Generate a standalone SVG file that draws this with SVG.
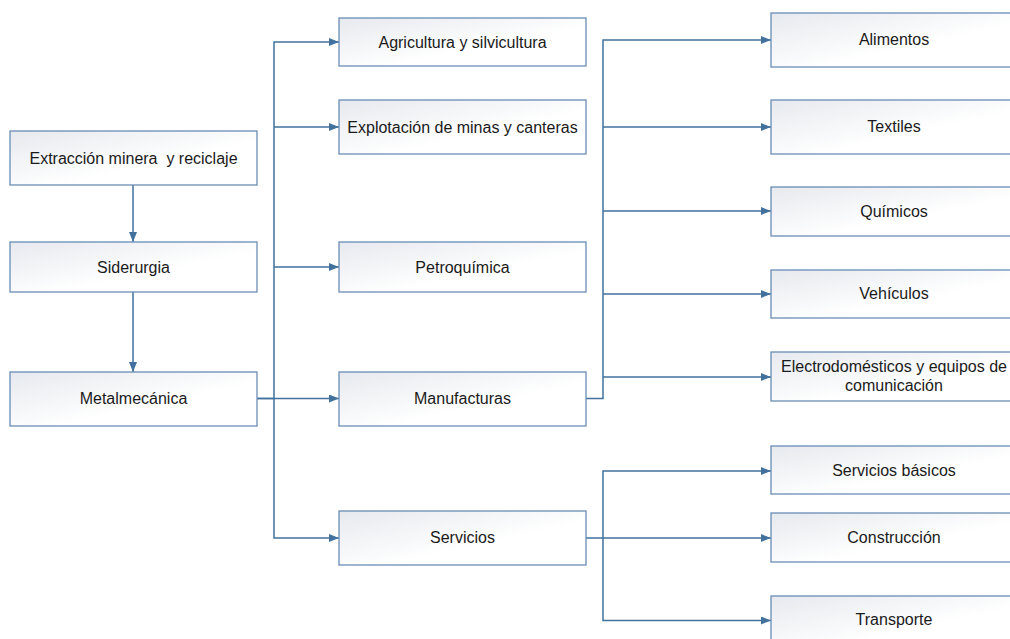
<svg xmlns="http://www.w3.org/2000/svg" width="1010" height="639" viewBox="0 0 1010 639">
<defs>
<linearGradient id="g" x1="0" y1="0" x2="1" y2="1">
<stop offset="0" stop-color="#E6E9EE"/>
<stop offset="0.6" stop-color="#FFFFFF"/>
<stop offset="1" stop-color="#FFFFFF"/>
</linearGradient>
<marker id="a" viewBox="0 0 10 8" refX="10" refY="4" markerWidth="10" markerHeight="8" markerUnits="userSpaceOnUse" orient="auto">
<path d="M0,0 L10,4 L0,8 z" fill="#41719C"/>
</marker>
</defs>
<style>
rect{fill:url(#g);stroke:#6A8DB5;stroke-width:1.3}
text{font-family:"Liberation Sans",Arial,sans-serif;font-size:16px;fill:#1A1A1A;text-anchor:middle;white-space:pre}
.c path{fill:none;stroke:#41719C;stroke-width:1.5}
</style>
<rect x="0" y="0" width="1010" height="639" style="fill:#FFFFFF;stroke:none"/>
<g class="c" id="connectors">
<path d="M133,185 V242" marker-end="url(#a)"/>
<path d="M133,292 V372" marker-end="url(#a)"/>
<path d="M257,398.5 H339" marker-end="url(#a)"/>
<path d="M257,398.5 H274 V42 H339" marker-end="url(#a)"/>
<path d="M274,127 H339" marker-end="url(#a)"/>
<path d="M274,267 H339" marker-end="url(#a)"/>
<path d="M274,398.5 V538 H339" marker-end="url(#a)"/>
<path d="M586,398.5 H603 V40 H771" marker-end="url(#a)"/>
<path d="M603,127 H771" marker-end="url(#a)"/>
<path d="M603,211 H771" marker-end="url(#a)"/>
<path d="M603,294 H771" marker-end="url(#a)"/>
<path d="M603,377 H771" marker-end="url(#a)"/>
<path d="M586,538 H771" marker-end="url(#a)"/>
<path d="M603,538 V471 H771" marker-end="url(#a)"/>
<path d="M603,538 V620.5 H771" marker-end="url(#a)"/>
</g>
<g id="n1"><rect x="10" y="131" width="247" height="54"/><text x="133.5" y="164">Extracción minera  y reciclaje</text></g>
<g id="n2"><rect x="10" y="242" width="247" height="50"/><text x="133.5" y="273">Siderurgia</text></g>
<g id="n3"><rect x="10" y="372" width="247" height="54"/><text x="133.5" y="404">Metalmecánica</text></g>
<g id="n4"><rect x="339" y="18" width="247" height="48"/><text x="462.5" y="48">Agricultura y silvicultura</text></g>
<g id="n5"><rect x="339" y="100" width="247" height="54"/><text x="462.5" y="133">Explotación de minas y canteras</text></g>
<g id="n6"><rect x="339" y="242" width="247" height="50"/><text x="462.5" y="273">Petroquímica</text></g>
<g id="n7"><rect x="339" y="372" width="247" height="54"/><text x="462.5" y="404">Manufacturas</text></g>
<g id="n8"><rect x="339" y="511" width="247" height="54"/><text x="462.5" y="543">Servicios</text></g>
<g id="n9"><rect x="771" y="13" width="247" height="54"/><text x="894" y="45">Alimentos</text></g>
<g id="n10"><rect x="771" y="100" width="247" height="54"/><text x="894" y="132">Textiles</text></g>
<g id="n11"><rect x="771" y="187" width="247" height="49"/><text x="894" y="217">Químicos</text></g>
<g id="n12"><rect x="771" y="270" width="247" height="48"/><text x="894" y="299">Vehículos</text></g>
<g id="n13"><rect x="771" y="352" width="247" height="49"/><text x="894" y="372">Electrodomésticos y equipos de</text><text x="894" y="391">comunicación</text></g>
<g id="n14"><rect x="771" y="446" width="247" height="48"/><text x="894" y="476">Servicios básicos</text></g>
<g id="n15"><rect x="771" y="513" width="247" height="49"/><text x="894" y="543">Construcción</text></g>
<g id="n16"><rect x="771" y="596" width="247" height="54"/><text x="894" y="625">Transporte</text></g>
</svg>
